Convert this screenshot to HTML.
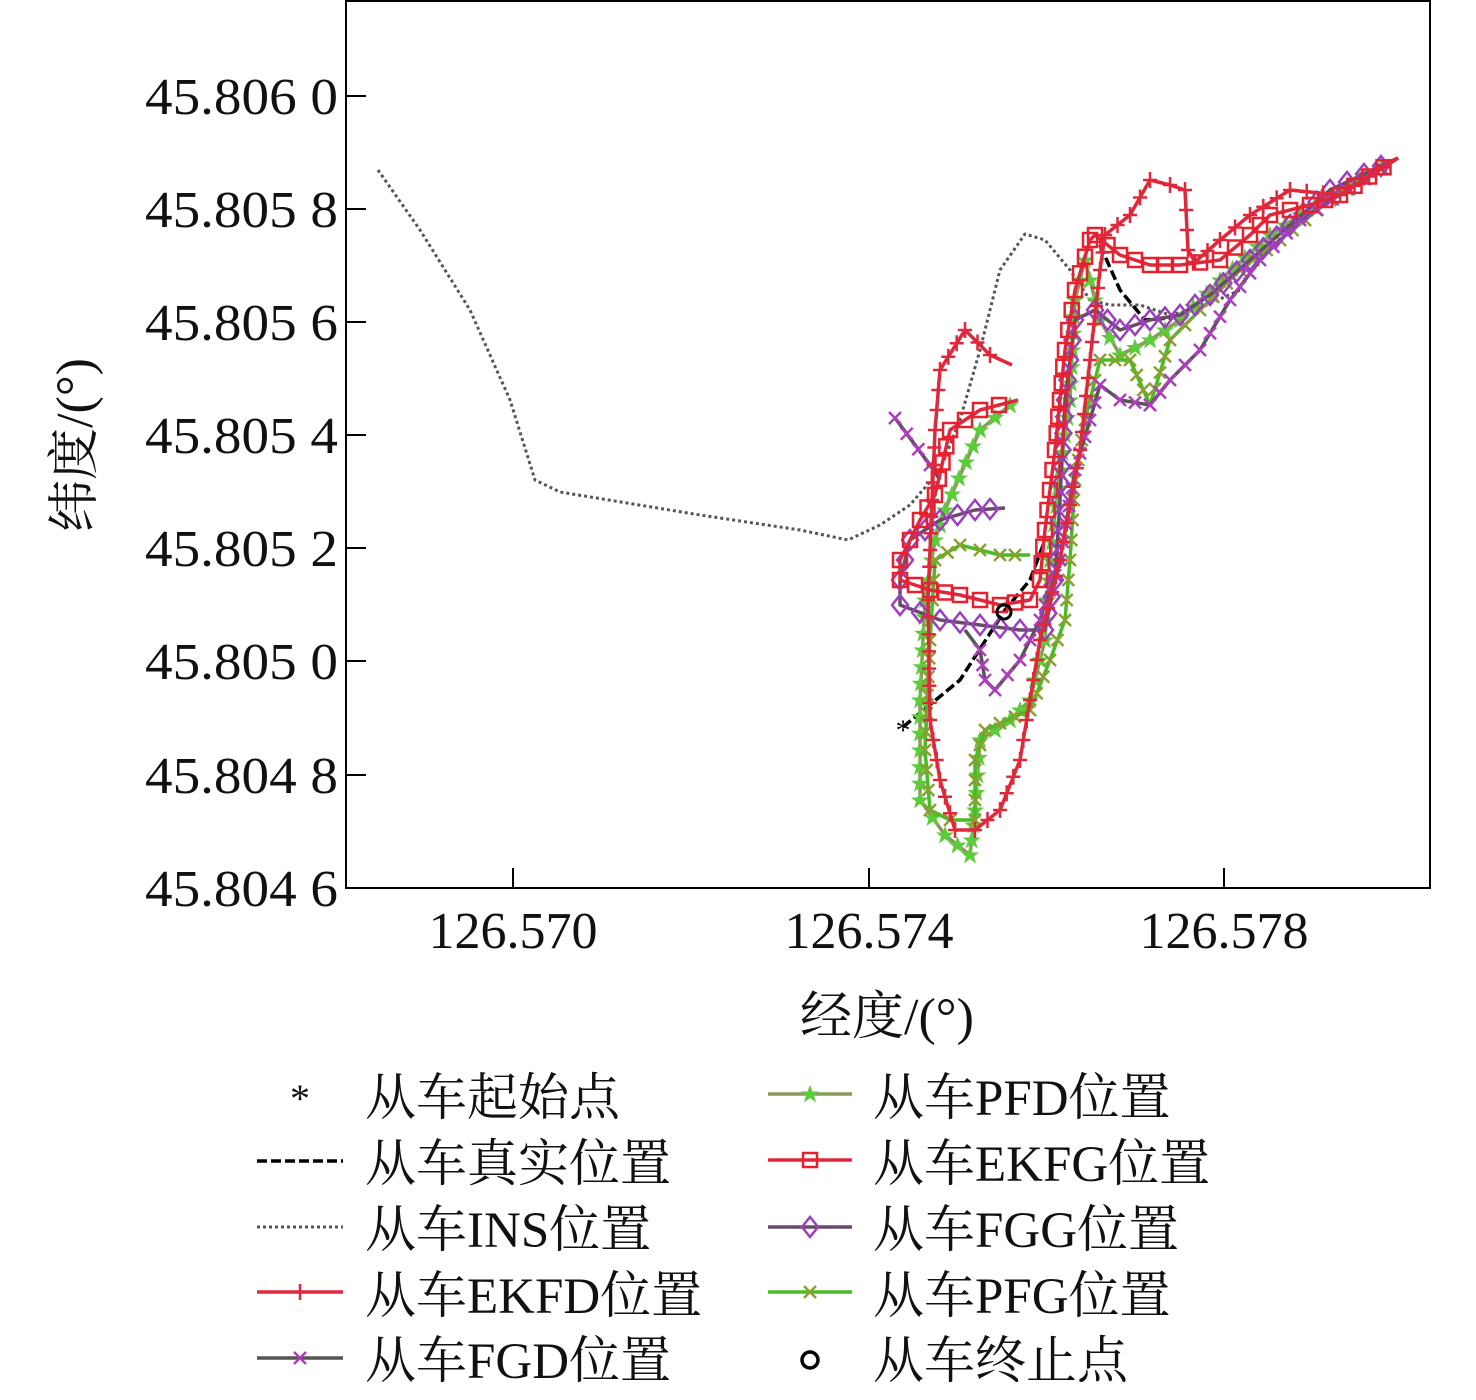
<!DOCTYPE html>
<html><head><meta charset="utf-8"><style>
body{margin:0;background:#fff}
svg text{font-family:"Liberation Serif","Noto Serif CJK SC","Noto Sans CJK SC",serif;fill:#111}
</style></head><body>
<svg id="s" width="1476" height="1395" viewBox="0 0 1476 1395" xmlns="http://www.w3.org/2000/svg">
<defs>
<marker id="mp" markerWidth="20" markerHeight="20" refX="10" refY="10" markerUnits="userSpaceOnUse"><path d="M10 2V18M3 10H17" stroke="#e0283c" stroke-width="2.5"/></marker>
<marker id="mx" markerWidth="20" markerHeight="20" refX="10" refY="10" markerUnits="userSpaceOnUse"><path d="M4 4L16 16M16 4L4 16" stroke="#b03cc0" stroke-width="2.5"/></marker>
<marker id="ms" markerWidth="22" markerHeight="22" refX="11" refY="11" markerUnits="userSpaceOnUse"><path d="M11 2L13.5 8.5L20 8.5L15 12.5L17 19.5L11 15L5 19.5L7 12.5L2 8.5L8.5 8.5Z" fill="#5ccc3a"/></marker>
<marker id="mq" markerWidth="22" markerHeight="22" refX="11" refY="11" markerUnits="userSpaceOnUse"><rect x="4" y="4" width="14" height="14" fill="none" stroke="#e8202e" stroke-width="2.5"/></marker>
<marker id="md" markerWidth="24" markerHeight="24" refX="12" refY="12" markerUnits="userSpaceOnUse"><path d="M12 2L20 12L12 22L4 12Z" fill="none" stroke="#9b3fc0" stroke-width="2.5"/></marker>
<marker id="mg" markerWidth="20" markerHeight="20" refX="10" refY="10" markerUnits="userSpaceOnUse"><path d="M4 4L16 16M16 4L4 16" stroke="#8aa030" stroke-width="2.5"/></marker>
</defs>
<rect x="346" y="1" width="1084" height="887" fill="none" stroke="#000" stroke-width="2"/>
<g stroke="#000" stroke-width="2">
<line x1="346" y1="96" x2="366" y2="96"/><line x1="346" y1="209" x2="366" y2="209"/><line x1="346" y1="322" x2="366" y2="322"/><line x1="346" y1="435" x2="366" y2="435"/><line x1="346" y1="548" x2="366" y2="548"/><line x1="346" y1="661" x2="366" y2="661"/><line x1="346" y1="775" x2="366" y2="775"/>
<line x1="513" y1="888" x2="513" y2="868"/><line x1="869" y1="888" x2="869" y2="868"/><line x1="1224" y1="888" x2="1224" y2="868"/>
</g>
<g font-size="52">
<text x="145" y="114" textLength="193" lengthAdjust="spacingAndGlyphs">45.806 0</text>
<text x="145" y="227" textLength="193" lengthAdjust="spacingAndGlyphs">45.805 8</text>
<text x="145" y="340" textLength="193" lengthAdjust="spacingAndGlyphs">45.805 6</text>
<text x="145" y="453" textLength="193" lengthAdjust="spacingAndGlyphs">45.805 4</text>
<text x="145" y="566" textLength="193" lengthAdjust="spacingAndGlyphs">45.805 2</text>
<text x="145" y="679" textLength="193" lengthAdjust="spacingAndGlyphs">45.805 0</text>
<text x="145" y="793" textLength="193" lengthAdjust="spacingAndGlyphs">45.804 8</text>
<text x="145" y="906" textLength="193" lengthAdjust="spacingAndGlyphs">45.804 6</text>
</g>
<g font-size="52" text-anchor="middle">
<text x="513" y="948">126.570</text><text x="869" y="948">126.574</text><text x="1224" y="948">126.578</text>
<text x="887" y="1034">经度/(°)</text>
</g>
<text font-size="52" text-anchor="middle" transform="translate(92,445) rotate(-90)">纬度/(°)</text>

<g fill="none" stroke-linejoin="round">
<polyline stroke="#555" stroke-width="3" stroke-dasharray="3,3" points="378,170 420,230 470,310 510,400 535,480 560,492 700,515 800,530 848,540 880,525 910,505 940,470 960,420 980,350 1000,270 1025,234 1045,240 1070,270 1090,300 1110,305 1140,305 1170,315 1200,308 1240,290"/>
<polyline stroke="#000" stroke-width="3.5" stroke-dasharray="10,4" points="903,727 960,680 1005,610 1030,580 1045,540"/>
<polyline stroke="#000" stroke-width="3.5" stroke-dasharray="10,4" points="1100,245 1120,290 1145,320 1170,318"/>
<polyline class="d" stroke="#8a9a5b" stroke-width="3.5" marker-mid="url(#ms)" marker-end="url(#ms)" points="1398,158 1330,195 1270,235 1220,280 1180,320 1150,340 1120,355 1100,320 1085,260 1075,300 1070,400 1060,470 1050,560 1045,640 1030,700 1010,720 980,740 975,810 970,855 945,835 920,800 920,700 925,600 935,540 945,510 980,430 1010,405"/>
<polyline class="d" stroke="#4aba25" stroke-width="3.5" marker-mid="url(#mg)" points="1398,158 1330,200 1280,240 1240,270 1200,310 1170,340 1150,405 1130,360 1100,360 1085,420 1075,480 1070,560 1065,620 1050,660 1030,710 985,730 975,760 975,820 950,820 930,810 925,750 930,640 935,560 960,545 1000,555 1030,555"/>
<polyline class="d" stroke="#555" stroke-width="3.5" marker-mid="url(#mx)" marker-start="url(#mx)" points="895,418 930,465 940,480"/>
<polyline class="d" stroke="#555" stroke-width="3.5" marker-mid="url(#mx)" points="1398,158 1300,220 1260,260 1230,300 1200,350 1170,380 1150,405 1120,400 1100,385 1090,420 1075,470 1060,560 1040,620 1020,660 995,690 985,680 980,650 965,630"/>
<polyline class="d" stroke="#6a4a6a" stroke-width="3.5" marker-mid="url(#md)" points="1398,158 1330,190 1290,225 1250,260 1210,295 1180,315 1150,320 1120,330 1095,310 1075,320 1065,400 1060,500 1055,580 1045,630 1020,630 980,625 940,620 900,605 900,580 910,540 940,520 975,510 1005,508"/>
<polyline class="d" stroke="#e0283c" stroke-width="3.5" marker-mid="url(#mq)" points="1398,158 1340,195 1310,205 1270,215 1250,235 1220,260 1180,265 1150,265 1120,255 1095,235 1090,240 1075,290 1065,350 1055,450 1045,530 1040,580 1030,600 1000,605 960,595 930,590 900,580 900,560 920,520 935,495 950,430 980,410 1018,400"/>
<polyline class="d" stroke="#e0283c" stroke-width="3.5" marker-mid="url(#mp)" points="1398,158 1340,195 1290,190 1250,215 1220,240 1195,262 1188,250 1185,190 1170,185 1150,180 1130,215 1105,235 1100,270 1080,450 1060,560 1040,640 1030,700 1020,760 1000,810 975,830 955,830 940,780 930,720 928,600 932,500 935,430 940,370 965,330 990,355 1012,365"/>
</g>
<text x="903" y="740" font-size="30" text-anchor="middle" fill="#000">*</text>
<circle cx="1004" cy="612" r="7" fill="none" stroke="#000" stroke-width="3"/>

<g font-size="51">
<text x="300" y="1112" font-size="40" text-anchor="middle">*</text>
<text x="365" y="1115">从车起始点</text>
<line x1="257" y1="1161" x2="343" y2="1161" stroke="#000" stroke-width="3.5" stroke-dasharray="10,4"/>
<text x="365" y="1181">从车真实位置</text>
<line x1="257" y1="1227" x2="343" y2="1227" stroke="#555" stroke-width="3" stroke-dasharray="3,3"/>
<text x="365" y="1247">从车INS位置</text>
<polyline points="257,1292 300,1292 343,1292" fill="none" stroke="#e0283c" stroke-width="3.5" marker-mid="url(#mp)"/>
<text x="365" y="1313">从车EKFD位置</text>
<polyline points="257,1358 300,1358 343,1358" fill="none" stroke="#555" stroke-width="3.5" marker-mid="url(#mx)"/>
<text x="365" y="1378">从车FGD位置</text>
<polyline points="768,1094 810,1094 852,1094" fill="none" stroke="#8a9a5b" stroke-width="3.5" marker-mid="url(#ms)"/>
<text x="873" y="1115">从车PFD位置</text>
<polyline points="768,1160 810,1160 852,1160" fill="none" stroke="#e0283c" stroke-width="3.5" marker-mid="url(#mq)"/>
<text x="873" y="1181">从车EKFG位置</text>
<polyline points="768,1227 810,1227 852,1227" fill="none" stroke="#6a4a6a" stroke-width="3.5" marker-mid="url(#md)"/>
<text x="873" y="1247">从车FGG位置</text>
<polyline points="768,1292 810,1292 852,1292" fill="none" stroke="#4aba25" stroke-width="3.5" marker-mid="url(#mg)"/>
<text x="873" y="1313">从车PFG位置</text>
<circle cx="810" cy="1360" r="8" fill="none" stroke="#000" stroke-width="3.5"/>
<text x="873" y="1378">从车终止点</text>
</g>
</svg>
<script>
document.querySelectorAll('polyline.d').forEach(function(p){
  var pts=p.getAttribute('points').trim().split(/\s+/).map(function(s){return s.split(',').map(Number);});
  var out=[pts[0]];
  for(var i=1;i<pts.length;i++){
    var a=pts[i-1],b=pts[i],dx=b[0]-a[0],dy=b[1]-a[1],L=Math.hypot(dx,dy),n=Math.max(1,Math.round(L/18));
    for(var k=1;k<=n;k++)out.push([a[0]+dx*k/n,a[1]+dy*k/n]);
  }
  p.setAttribute('points',out.map(function(q){return q[0].toFixed(1)+','+q[1].toFixed(1);}).join(' '));
});
</script>
</body></html>
